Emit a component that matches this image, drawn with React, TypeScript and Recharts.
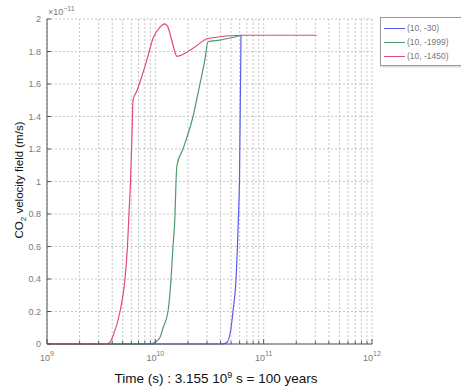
import React from 'react'
import { LineChart, Line, XAxis, YAxis, CartesianGrid, Label } from 'recharts'

// time in seconds, velocity in units of 1e-11 m/s
const RED_T = [1e9, 3.5e9, 3.8e9, 4.07e9, 4.72e9, 5.25e9, 5.53e9, 5.71e9, 5.9e9, 6.1e9, 6.22e9, 6.78e9, 7.53e9, 8.37e9, 9.51e9, 1.104e10, 1.227e10, 1.309e10, 1.365e10, 1.455e10, 1.585e10, 2.228e10, 3.06e10, 6.31e10, 3.09e11]
const RED_V = [0, 0, 0.01, 0.05, 0.2, 0.4, 0.6, 0.8, 1.0, 1.3, 1.5, 1.56, 1.65, 1.75, 1.88, 1.95, 1.97, 1.95, 1.91, 1.84, 1.77, 1.82, 1.88, 1.9, 1.9]

const GREEN_T = [1e9, 8.93e9, 9.93e9, 1.104e10, 1.178e10, 1.309e10, 1.396e10, 1.455e10, 1.52e10, 1.552e10, 1.585e10, 1.8e10, 2.228e10, 2.58e10, 2.87e10, 3.06e10, 3.95e10, 6.31e10]
const GREEN_V = [0, 0, 0.01, 0.04, 0.1, 0.2, 0.4, 0.6, 0.8, 1.0, 1.1, 1.2, 1.4, 1.6, 1.75, 1.86, 1.87, 1.9]

const BLUE_T = [1e9, 4.12e10, 4.59e10, 5.0e10, 5.21e10, 5.56e10, 5.73e10, 5.86e10, 5.98e10, 6.18e10]
const BLUE_V = [0, 0, 0.01, 0.1, 0.2, 0.4, 0.6, 0.8, 1.0, 1.9]

const DECADES = [1e9, 1e10, 1e11, 1e12]
const MINOR = [2, 3, 4, 5, 6, 7, 8, 9]
const Y_TICKS = [0, 0.2, 0.4, 0.6, 0.8, 1, 1.2, 1.4, 1.6, 1.8, 2]

const SERIES = [
  { name: '(10, -30)', color: '#5b5bf0', t: BLUE_T, v: BLUE_V },
  { name: '(10, -1999)', color: '#4f9a6c', t: GREEN_T, v: GREEN_V },
  { name: '(10, -1450)', color: '#e44a74', t: RED_T, v: RED_V },
]

const X_TICKS = [
  ...DECADES.slice(0, 3).flatMap((d) => [d, ...MINOR.map((m) => m * d)]),
  DECADES[3],
].sort((a, b) => a - b)

const TICK_FONT = { fontFamily: 'Liberation Sans', fontSize: 9, fill: '#7a7a7a' }

const isDecade = (v: number) => {
  const e = Math.round(Math.log10(v))
  return Math.abs(v - Math.pow(10, e)) < v * 1e-6
}

const XTick = ({ x, y, payload }: any) => {
  const v = payload.value
  const dec = isDecade(v)
  const e = Math.round(Math.log10(v))
  return (
    <g>
      <line x1={x} x2={x} y1={y} y2={y - (dec ? 5 : 3)} stroke="#555" />
      {dec && (
        <text x={x} y={y + 17} textAnchor="middle" {...TICK_FONT}>
          10<tspan dy={-5} fontSize={7}>{e}</tspan>
        </text>
      )}
    </g>
  )
}

const XTopTick = ({ x, y, payload }: any) => {
  const dec = isDecade(payload.value)
  return <line x1={x} x2={x} y1={y} y2={y + (dec ? 5 : 3)} stroke="#555" />
}

const YTick = ({ x, y, payload }: any) => (
  <g>
    <line x1={x} x2={x + 4} y1={y} y2={y} stroke="#555" />
    <text x={x - 6} y={y + 3} textAnchor="end" {...TICK_FONT}>
      {Number(payload.value.toFixed(1)).toString()}
    </text>
  </g>
)

const YRightTick = ({ x, y }: any) => <line x1={x} x2={x - 4} y1={y} y2={y} stroke="#555" />

const LegendBox = () => (
  <div
    style={{
      position: 'absolute',
      left: 380,
      top: 17,
      width: 90,
      height: 44,
      border: '1px solid #9a9a9a',
      background: '#fff',
      padding: '3px 0 0 3px',
      fontFamily: 'Liberation Sans',
      fontSize: 8.5,
      color: '#777',
      boxShadow: '1px 1px 2px #ccc',
    }}
  >
    {SERIES.map((s) => (
      <div key={s.name} style={{ display: 'flex', alignItems: 'center', height: 14 }}>
        <span style={{ display: 'inline-block', width: 21, height: 1, background: s.color, marginRight: 2 }} />
        <span>{s.name}</span>
      </div>
    ))}
  </div>
)

export default function App() {
  return (
    <div style={{ position: 'absolute', left: 0, top: 0, width: 461, height: 390, background: '#fff', overflow: 'hidden' }}>
      <LineChart width={461} height={390} margin={{ top: 19, right: 89, bottom: 26, left: 0 }}>
        <CartesianGrid stroke="#c6c6c6" strokeDasharray="2 2" />
        <XAxis
          dataKey="t"
          type="number"
          scale="log"
          domain={[1e9, 1e12]}
          ticks={X_TICKS}
          interval={0}
          allowDataOverflow
          height={20}
          tickSize={0}
          tickMargin={0}
          tick={<XTick />}
          axisLine={{ stroke: '#555' }}
        >
          <Label
            content={() => (
              <text x={216} y={383} textAnchor="middle" fontFamily="Liberation Sans" fontSize={13.5} fill="#111">
                Time (s) : 3.155 10<tspan dy={-5} fontSize={9}>9</tspan>
                <tspan dy={5}> s = 100 years</tspan>
              </text>
            )}
          />
        </XAxis>
        <XAxis
          xAxisId="top"
          orientation="top"
          type="number"
          scale="log"
          domain={[1e9, 1e12]}
          ticks={X_TICKS}
          interval={0}
          allowDataOverflow
          height={0}
          tickSize={0}
          tickMargin={0}
          tick={<XTopTick />}
          axisLine={{ stroke: '#555' }}
        />
        <YAxis
          type="number"
          domain={[0, 2]}
          ticks={Y_TICKS}
          interval={0}
          width={47}
          tickSize={0}
          tickMargin={0}
          tick={<YTick />}
          axisLine={{ stroke: '#555' }}
        >
          <Label
            content={() => (
              <g>
                <text
                  x={23}
                  y={180}
                  transform="rotate(-90 23 180)"
                  textAnchor="middle"
                  fontFamily="Liberation Sans"
                  fontSize={11.5}
                  fill="#111"
                >
                  CO<tspan dy={3} fontSize={8}>2</tspan>
                  <tspan dy={-3}> velocity field (m/s)</tspan>
                </text>
                <text x={48} y={15} {...TICK_FONT}>
                  ×10<tspan dy={-4} fontSize={7}>−11</tspan>
                </text>
              </g>
            )}
          />
        </YAxis>
        <YAxis
          yAxisId="right"
          orientation="right"
          type="number"
          domain={[0, 2]}
          ticks={Y_TICKS}
          interval={0}
          width={0}
          tickSize={0}
          tickMargin={0}
          tick={<YRightTick />}
          axisLine={{ stroke: '#555' }}
        />
        {SERIES.map((s) => (
          <Line
            key={s.name}
            name={s.name}
            data={s.t.map((t, i) => ({ t, v: s.v[i] }))}
            dataKey="v"
            type="monotone"
            stroke={s.color}
            strokeWidth={1.2}
            dot={false}
            isAnimationActive={false}
          />
        ))}
      </LineChart>
      <LegendBox />
    </div>
  )
}
